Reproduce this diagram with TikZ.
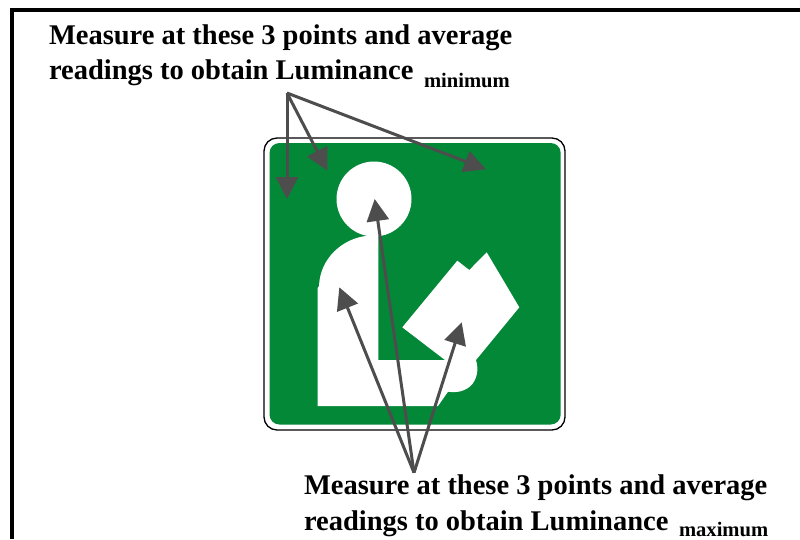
\documentclass[tikz,border=0pt]{standalone}
\usepackage{fontspec}
\setmainfont{Liberation Serif}
\usetikzlibrary{arrows.meta}
\definecolor{signgreen}{HTML}{038837}
\definecolor{arrowgrey}{HTML}{4D4D4D}
\tikzset{
  lead/.style={draw=arrowgrey,line width=3pt,-{Triangle[length=22pt,width=22pt]},shorten >=0pt},
  bigtext/.style={anchor=base west,inner sep=0pt,outer sep=0pt,font=\fontsize{28.5}{30}\selectfont\bfseries},
  smalltext/.style={anchor=base west,inner sep=0pt,outer sep=0pt,font=\fontsize{20.6}{22}\selectfont\bfseries},
  figure/.style={fill=white,draw=none}
}
\begin{document}
\begin{tikzpicture}[x=1pt,y=-1pt]
\useasboundingbox (0,0) rectangle (800,539);
\fill[white] (0,0) rectangle (800,539);
% frame
\draw[black,line width=4.4pt] (11.7,539) -- (11.7,10.2) -- (800,10.2);
% sign
\draw[black,line width=1.3pt,fill=white,rounded corners=13pt] (264,138) rectangle (565,430);
\fill[signgreen,rounded corners=10pt] (269.5,143) rectangle (560.7,424.5);
% figure
\fill[figure] (374,199) circle (37.5);
\fill[figure] (317.7,406) -- (317.7,288) -- (319,286)
  .. controls (320,258) and (343,238) .. (368,235.7)
  -- (378.3,233) -- (378.3,360) -- (445,360)
  -- (402.3,327.3) -- (457.3,260.7) -- (469.3,270) -- (486.7,252.3)
  -- (519.3,307.3) -- (476,360)
  .. controls (479,370) and (477,380) .. (470,386.5)
  .. controls (463,392) and (455,393) .. (448,391.7)
  -- (438,406) -- cycle;
% connector ends
\coordinate (topapex) at (287,93);
\coordinate (t1) at (287,199);
\coordinate (t2) at (327.3,170.7);
\coordinate (t3) at (486,169.3);
\coordinate (botapex) at (414,472.7);
\coordinate (b1) at (339.3,287.3);
\coordinate (b2) at (374.7,199);
\coordinate (b3) at (461.7,322.3);
\draw[lead] (topapex) -- (t1);
\draw[lead] (topapex) -- (t2);
\draw[lead] (topapex) -- (t3);
\draw[lead] (botapex) -- (b1);
\draw[lead] (botapex) -- (b2);
\draw[lead] (botapex) -- (b3);
% texts
\node[bigtext] (l1) at (49,44.5) {Measure at these 3 points and average};
\node[bigtext] (l2) at (49,79.5) {readings to obtain Luminance};
\node[smalltext] (l3) at (424,87) {minimum};
\node[bigtext] (m1) at (304,494) {Measure at these 3 points and average};
\node[bigtext] (m2) at (304,530.5) {readings to obtain Luminance};
\node[smalltext] (m3) at (679,536) {maximum};
\end{tikzpicture}
\end{document}
